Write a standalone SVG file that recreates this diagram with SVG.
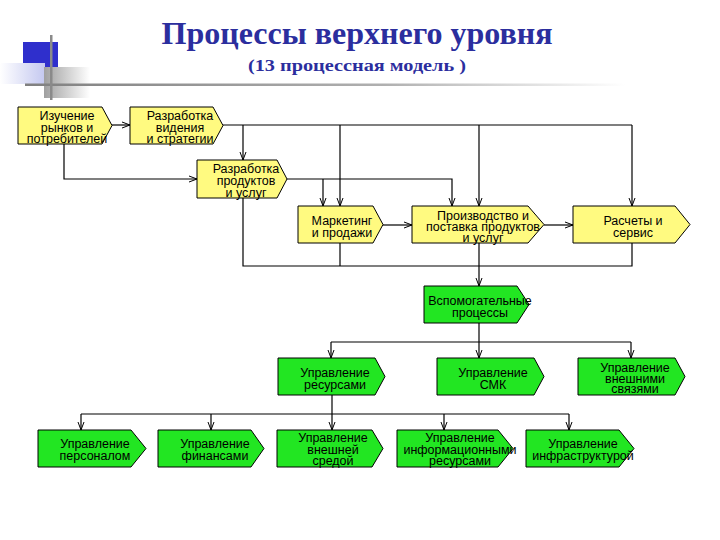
<svg xmlns="http://www.w3.org/2000/svg" width="720" height="540" viewBox="0 0 720 540">
<style>
.y{fill:#FFFA80;stroke:#000;stroke-width:1}
.g{fill:#22E622;stroke:#000;stroke-width:1}
.t{font-family:"Liberation Sans",Arial,sans-serif;font-size:12.5px;fill:#000;text-anchor:middle}
.c{fill:none;stroke:#000;stroke-width:1.2}
.ttl{font-family:"Liberation Serif","Times New Roman",serif;font-weight:bold;fill:#2B2E9E;text-anchor:middle}
</style>
<defs>
<marker id="a" viewBox="0 0 8 8" refX="8" refY="4" markerWidth="8" markerHeight="8" markerUnits="userSpaceOnUse" orient="auto"><path d="M0,1 L8,4 L0,7" fill="none" stroke="#000" stroke-width="1"/></marker>
<linearGradient id="lb" x1="0" x2="1" y1="0" y2="0"><stop offset="0" stop-color="#FFFFFF"/><stop offset="1" stop-color="#C4C8F0"/></linearGradient>
<linearGradient id="gb" x1="0" x2="1" y1="0" y2="0"><stop offset="0" stop-color="#A0A0A0"/><stop offset="1" stop-color="#FFFFFF"/></linearGradient>
<linearGradient id="hl" x1="0" x2="1" y1="0" y2="0"><stop offset="0" stop-color="#808080"/><stop offset="0.6" stop-color="#B0B0B0"/><stop offset="1" stop-color="#FFFFFF"/></linearGradient>
</defs>
<rect width="720" height="540" fill="#FFFFFF"/>
<g id="decor">
<rect x="23" y="42" width="35" height="25" fill="#2F2FCC"/>
<rect x="0" y="63" width="45" height="21" fill="url(#lb)"/>
<rect x="44" y="67" width="46" height="31" fill="url(#gb)"/>
<rect x="25" y="83.5" width="600" height="2.5" fill="url(#hl)"/>
<rect x="50" y="35" width="2.5" height="65" fill="#8A8A8A"/>
</g>
<g id="title">
<text class="ttl" x="357" y="44" font-size="32" textLength="391" lengthAdjust="spacingAndGlyphs">Процессы верхнего уровня</text>
<text class="ttl" x="357" y="71" font-size="16" textLength="218" lengthAdjust="spacingAndGlyphs">(13 процессная модель )</text>
</g>
<g id="connectors">
<path class="c" d="M112,125 H130" marker-end="url(#a)"/>
<path class="c" d="M223,125 H632"/>
<path class="c" d="M243,125 V160" marker-end="url(#a)"/>
<path class="c" d="M340,125 V206" marker-end="url(#a)"/>
<path class="c" d="M479,125 V206" marker-end="url(#a)"/>
<path class="c" d="M632,125 V206" marker-end="url(#a)"/>
<path class="c" d="M64,144 V179 H197" marker-end="url(#a)"/>
<path class="c" d="M287,179 H452 V206" marker-end="url(#a)"/>
<path class="c" d="M323,179 V206" marker-end="url(#a)"/>
<path class="c" d="M383,225 H412" marker-end="url(#a)"/>
<path class="c" d="M544,225 H573" marker-end="url(#a)"/>
<path class="c" d="M243,198 V266 H632 V243"/>
<path class="c" d="M340,243 V266"/>
<path class="c" d="M479,243 V286" marker-end="url(#a)"/>
<path class="c" d="M479,323 V342"/>
<path class="c" d="M331,342 H631"/>
<path class="c" d="M331,342 V358" marker-end="url(#a)"/>
<path class="c" d="M479,342 V358" marker-end="url(#a)"/>
<path class="c" d="M631,342 V358" marker-end="url(#a)"/>
<path class="c" d="M332,395 V430" marker-end="url(#a)"/>
<path class="c" d="M81,414 H569"/>
<path class="c" d="M81,414 V430" marker-end="url(#a)"/>
<path class="c" d="M211,414 V430" marker-end="url(#a)"/>
<path class="c" d="M444,414 V430" marker-end="url(#a)"/>
<path class="c" d="M569,414 V430" marker-end="url(#a)"/>
</g>
<g id="n1"><path class="y" d="M18,107 H102 L112,125.5 L102,144 H18 Z"/><text class="t" x="67"><tspan x="67" y="120">Изучение</tspan><tspan x="67" y="131.5">рынков и</tspan><tspan x="67" y="143">потребителей</tspan></text></g>
<g id="n2"><path class="y" d="M130,107 H213 L223,125.5 L213,144 H130 Z"/><text class="t"><tspan x="180" y="120">Разработка</tspan><tspan x="180" y="131.5">видения</tspan><tspan x="180" y="143">и стратегии</tspan></text></g>
<g id="n3"><path class="y" d="M197,160 H277 L287,179 L277,198 H197 Z"/><text class="t"><tspan x="246" y="173">Разработка</tspan><tspan x="246" y="185">продуктов</tspan><tspan x="246" y="197">и услуг</tspan></text></g>
<g id="n4"><path class="y" d="M298,206 H373 L383,224.5 L373,243 H298 Z"/><text class="t"><tspan x="342" y="225">Маркетинг</tspan><tspan x="342" y="237">и продажи</tspan></text></g>
<g id="n5"><path class="y" d="M412,206 H528 L544,224.5 L528,243 H412 Z"/><text class="t"><tspan x="483" y="220">Производство и</tspan><tspan x="483" y="231">поставка продуктов</tspan><tspan x="483" y="242">и услуг</tspan></text></g>
<g id="n6"><path class="y" d="M573,206 H675 L690,224.5 L675,243 H573 Z"/><text class="t"><tspan x="633" y="225">Расчеты и</tspan><tspan x="633" y="237">сервис</tspan></text></g>
<g id="n7"><path class="g" d="M424,286 H517 L529,304.5 L517,323 H424 Z"/><text class="t"><tspan x="480" y="305">Вспомогательные</tspan><tspan x="480" y="317">процессы</tspan></text></g>
<g id="n8"><path class="g" d="M278,358 H375 L385,376.5 L375,395 H278 Z"/><text class="t"><tspan x="335" y="377">Управление</tspan><tspan x="335" y="389">ресурсами</tspan></text></g>
<g id="n9"><path class="g" d="M437,358 H534 L544,376.5 L534,395 H437 Z"/><text class="t"><tspan x="493" y="377">Управление</tspan><tspan x="493" y="389">СМК</tspan></text></g>
<g id="n10"><path class="g" d="M578,358 H675 L685,376.5 L675,395 H578 Z"/><text class="t"><tspan x="635" y="372">Управление</tspan><tspan x="635" y="382.5">внешними</tspan><tspan x="635" y="393">связями</tspan></text></g>
<g id="n11"><path class="g" d="M38,430 H131 L146,448.5 L131,467 H38 Z"/><text class="t"><tspan x="95" y="448">Управление</tspan><tspan x="95" y="460">персоналом</tspan></text></g>
<g id="n12"><path class="g" d="M158,430 H251 L264,448.5 L251,467 H158 Z"/><text class="t"><tspan x="215" y="448">Управление</tspan><tspan x="215" y="460">финансами</tspan></text></g>
<g id="n13"><path class="g" d="M277,430 H372 L383,448.5 L372,467 H277 Z"/><text class="t"><tspan x="333" y="442">Управление</tspan><tspan x="333" y="453.5">внешней</tspan><tspan x="333" y="465">средой</tspan></text></g>
<g id="n14"><path class="g" d="M397,430 H498 L513,448.5 L498,467 H397 Z"/><text class="t"><tspan x="460" y="442">Управление</tspan><tspan x="460" y="453.5">информационными</tspan><tspan x="460" y="465">ресурсами</tspan></text></g>
<g id="n15"><path class="g" d="M526,430 H619 L634,448.5 L619,467 H526 Z"/><text class="t"><tspan x="583" y="448">Управление</tspan><tspan x="583" y="460">инфраструктурой</tspan></text></g>
</svg>
